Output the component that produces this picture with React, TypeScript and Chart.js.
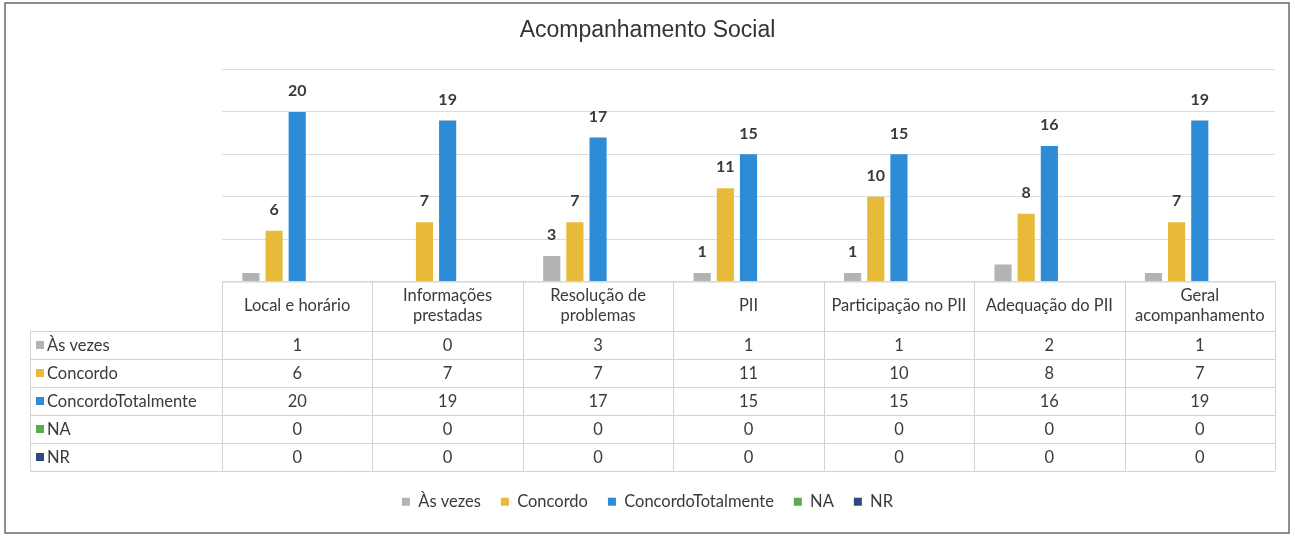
import { useEffect, useRef } from "react";
import { Chart, registerables } from "chart.js";

Chart.register(...registerables);

// ---- data ----
const categories: string[][] = [
  ["Local e horário"],
  ["Informações", "prestadas"],
  ["Resolução de", "problemas"],
  ["PII"],
  ["Participação no PII"],
  ["Adequação do PII"],
  ["Geral", "acompanhamento"],
];
const seriesNames = ["Às vezes", "Concordo", "ConcordoTotalmente", "NA", "NR"];
const asVezes = [1, 0, 3, 1, 1, 2, 1];
const concordo = [6, 7, 7, 11, 10, 8, 7];
const concordoTotalmente = [20, 19, 17, 15, 15, 16, 19];
const na = [0, 0, 0, 0, 0, 0, 0];
const nr = [0, 0, 0, 0, 0, 0, 0];
// which bars carry a data label in the original
const asVezesLabelShown = [false, false, true, true, true, false, false];
const concordoLabelShown = [true, true, true, true, true, true, true];
const totalLabelShown = [true, true, true, true, true, true, true];
const yMax = 25;
const yStep = 5;

const seriesColors = ["#B3B3B3", "#E8BA3A", "#2E8BD5", "#5DAA4A", "#2C4A7C"];
const TEXT = "#3A3A3A";
const FONT = "Lato";
const FS = 16.5;

const frame = {
  id: "frame",
  beforeDraw(chart: any) {
    const { ctx, width, height } = chart;
    ctx.save();
    ctx.fillStyle = "#FFFFFF";
    ctx.fillRect(0, 0, width, height);
    ctx.strokeStyle = "#6A6A6A";
    ctx.lineWidth = 1.5;
    ctx.strokeRect(5, 3, 1284, 530);
    ctx.restore();
  },
};

const barLabels = {
  id: "barLabels",
  afterDatasetsDraw(chart: any) {
    const { ctx } = chart;
    const shown = [asVezesLabelShown, concordoLabelShown, totalLabelShown];
    ctx.save();
    ctx.font = `bold 16px ${FONT}`;
    ctx.fillStyle = TEXT;
    ctx.textAlign = "center";
    ctx.textBaseline = "middle";
    chart.data.datasets.forEach((ds: any, di: number) => {
      if (di > 2) return;
      const meta = chart.getDatasetMeta(di);
      meta.data.forEach((el: any, i: number) => {
        const v = ds.data[i];
        if (!v || !shown[di][i]) return;
        ctx.fillText(String(v), el.x, el.y - 21);
      });
    });
    ctx.restore();
  },
};

const dataTable = {
  id: "dataTable",
  afterDraw(chart: any) {
    const { ctx, chartArea } = chart;
    const xs = chart.scales.x;
    const n = categories.length;
    const step = xs.getPixelForValue(1) - xs.getPixelForValue(0);
    const right = chartArea.right;
    const left = chartArea.left;
    const top = chartArea.bottom;
    const headerH = 49;
    const rowH = 28;
    const labelLeft = 30;
    const rows = [asVezes, concordo, concordoTotalmente, na, nr];
    const bottom = top + headerH + rowH * rows.length;

    ctx.save();
    ctx.strokeStyle = "#D2D2D2";
    ctx.lineWidth = 1;
    ctx.beginPath();
    ctx.moveTo(left, top + 0.5);
    ctx.lineTo(right, top + 0.5);
    for (let r = 0; r <= rows.length; r++) {
      const y = Math.round(top + headerH + r * rowH) + 0.5;
      ctx.moveTo(labelLeft, y);
      ctx.lineTo(right, y);
    }
    for (let i = 0; i <= n; i++) {
      const x = Math.round(xs.getPixelForValue(i) - step / 2) + 0.5;
      ctx.moveTo(x, top);
      ctx.lineTo(x, bottom);
    }
    ctx.moveTo(labelLeft + 0.5, top + headerH);
    ctx.lineTo(labelLeft + 0.5, bottom);
    ctx.stroke();

    ctx.fillStyle = TEXT;
    ctx.font = `${FS}px ${FONT}`;
    ctx.textAlign = "center";
    ctx.textBaseline = "middle";
    categories.forEach((lines, i) => {
      const cx = xs.getPixelForValue(i);
      const cy = top + headerH / 2;
      const lh = 20;
      lines.forEach((t, k) => {
        ctx.fillText(t, cx, cy + (k - (lines.length - 1) / 2) * lh);
      });
    });
    rows.forEach((vals, r) => {
      const cy = top + headerH + r * rowH + rowH / 2;
      vals.forEach((v, i) => {
        ctx.fillText(String(v), xs.getPixelForValue(i), cy + 1);
      });
      ctx.fillStyle = seriesColors[r];
      ctx.fillRect(labelLeft + 6, Math.round(cy - 4), 8, 8);
      ctx.fillStyle = TEXT;
      ctx.textAlign = "left";
      ctx.fillText(seriesNames[r], labelLeft + 17, cy + 1);
      ctx.textAlign = "center";
    });
    ctx.restore();
  },
};

export default function App() {
  const ref = useRef<HTMLCanvasElement>(null);
  useEffect(() => {
    document.body.style.margin = "0";
    const seriesData = [asVezes, concordo, concordoTotalmente, na, nr];
    const chart = new Chart(ref.current as HTMLCanvasElement, {
      type: "bar",
      data: {
        labels: categories,
        datasets: seriesNames.map((name, i) => ({
          label: name,
          data: seriesData[i],
          backgroundColor: seriesColors[i],
          borderWidth: 0,
          categoryPercentage: 0.77,
          barPercentage: 0.74,
        })),
      },
      options: {
        responsive: false,
        animation: false,
        devicePixelRatio: 1,
        layout: { padding: { left: 20, right: 20, top: 0, bottom: 21 } },
        scales: {
          x: {
            ticks: { display: false },
            grid: { display: false },
            border: { display: false },
            afterFit: (s: any) => {
              s.height = 192;
            },
          },
          y: {
            min: 0,
            max: yMax,
            ticks: { display: false, stepSize: yStep },
            grid: { color: "#DCDCDC", drawTicks: false },
            border: { display: false },
            afterFit: (s: any) => {
              s.width = 202;
            },
          },
        },
        plugins: {
          title: {
            display: true,
            text: "Acompanhamento Social",
            color: "#333333",
            font: { family: "Liberation Sans", size: 23, weight: "normal" },
            padding: { top: 17, bottom: 25 },
          },
          legend: {
            position: "bottom",
            labels: {
              boxWidth: 8,
              boxHeight: 8,
              padding: 20,
              color: TEXT,
              font: { family: FONT, size: FS },
            },
          },
          tooltip: { enabled: false },
        },
      },
      plugins: [frame, barLabels, dataTable],
    });
    return () => chart.destroy();
  }, []);
  return (
    <div style={{ width: 1295, height: 541 }}>
      <canvas ref={ref} width={1295} height={541} />
    </div>
  );
}
